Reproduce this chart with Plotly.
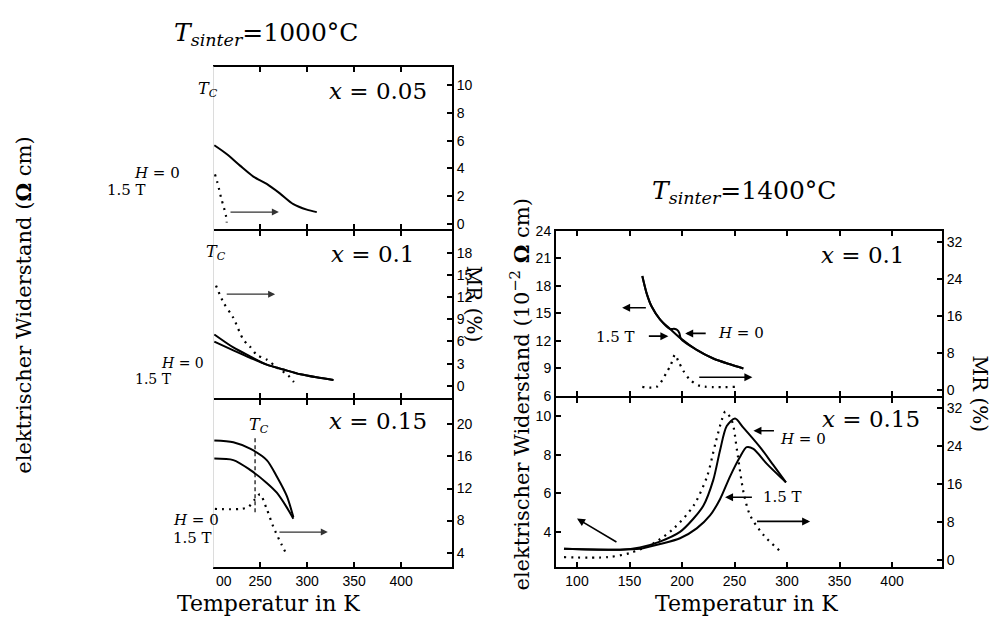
import plotly.graph_objects as go

# ---- T_sinter = 1000 C (left column) ----
# x = 0.05
t05_res = [201.4, 214.5, 228.7, 242.9, 257.1, 271.3, 285.4, 299.7, 310.3]
r05_res = [5.67, 5.04, 4.2, 3.41, 2.88, 2.18, 1.42, 1.02, 0.84]
t05_mr = [202.1, 204.6, 206.7, 208.8, 211.7, 213.8, 214.6]
v05_mr = [3.57, 3.0, 2.42, 1.83, 1.14, 0.56, 0.09]

# x = 0.1
t10_res = [201.4, 221.6, 239.4, 257.1, 275, 293, 310, 328]
r10_h0 = [6.95, 5.2, 4.0, 2.87, 2.2, 1.56, 1.15, 0.8]
r10_15 = [5.97, 4.8, 3.8, 2.87, 2.2, 1.56, 1.15, 0.8]
t10_mr = [203.2, 211, 221.6, 232.2, 239.4, 246.5, 257, 267.8, 280, 285.4, 289]
v10_mr = [13.56, 11.3, 9.2, 6.26, 5.3, 4.2, 3.56, 2.5, 1.4, 0.6, 0.1]

# x = 0.15
t15_res = [201.4, 221.6, 239.4, 257.1, 267.8, 278.4, 285.4]
r15_h0 = [17.99, 17.78, 16.97, 15.55, 13.5, 11.07, 8.43]
r15_15 = [15.74, 15.55, 14.33, 12.7, 11.48, 9.65, 8.23]
t15_mr = [202, 228.7, 237.6, 244.7, 250, 257.1, 264.2, 273, 278.4]
v15_mr = [9.45, 9.45, 9.7, 10.67, 11.28, 9.45, 7.2, 4.98, 3.76]
tc15_t = [244.7, 244.7]
tc15_v = [9.04, 18.6]

# ---- T_sinter = 1400 C (right column) ----
# x = 0.1
t14a_15 = [162.2, 166.4, 171.1, 179, 188.6, 198.1, 214, 229.8, 245.7, 258.4]
r14a_15 = [19.06, 17.14, 15.73, 14.34, 13.29, 12.31, 11.0, 10.06, 9.43, 8.98]
t14a_h0 = [162.2, 166.4, 171.1, 179, 188.6, 192.4, 195.5, 197.5, 199, 214, 229.8, 245.7, 258.4]
r14a_h0 = [19.06, 17.14, 15.73, 14.34, 13.29, 13.3, 13.18, 12.83, 12.2, 11.0, 10.06, 9.43, 8.98]
t14a_mr = [162.2, 175.9, 185.4, 189.5, 193.3, 196.5, 201.3, 207.6, 217.1, 250.5]
v14a_mr = [0.63, 0.63, 3.77, 5.5, 7.6, 6.2, 4.1, 2.16, 0.84, 0.63]

# x = 0.15
t14b_h0 = [87.6, 141, 160, 179, 198.1, 210.8, 220.3, 229.8, 236.2, 242.6, 250.5, 258.4, 274.3, 287, 299]
r14b_h0 = [3.14, 3.09, 3.21, 3.51, 4.01, 4.69, 5.36, 6.7, 8.22, 9.48, 9.87, 9.4, 8.39, 7.46, 6.57]
t14b_15 = [87.6, 141, 160, 179, 198.1, 214, 226.7, 236.2, 245.7, 255.2, 261.6, 268, 280.6, 299]
r14b_15 = [3.14, 3.09, 3.14, 3.38, 3.68, 4.19, 4.86, 5.7, 6.87, 7.88, 8.39, 8.3, 7.54, 6.57]
t14b_mr = [87.6, 128.6, 150.8, 173, 192, 211, 223.8, 231.7, 238, 241.3, 247.6, 252.4, 258.7, 265, 277.8, 293.7]
v14b_mr = [0.68, 0.68, 1.57, 3.62, 6.7, 11.5, 17.6, 24.5, 29.6, 31.3, 29.3, 23.1, 14.2, 9.4, 5.3, 1.9]

# tick values
x_ticks_left = [250, 300, 350, 400]
x_ticks_right = [100, 150, 200, 250, 300, 350, 400]
y_ticks_05 = [0, 2, 4, 6, 8, 10]
y_ticks_10 = [0, 3, 6, 9, 12, 15, 18]
y_ticks_15 = [4, 8, 12, 16, 20]
res_ticks_a = [6, 9, 12, 15, 18, 21, 24]
res_ticks_b = [4, 6, 8, 10]
mr_ticks = [0, 8, 16, 24, 32]

W, H = 1000, 627
SERIF = "DejaVu Serif"
SANS = "Liberation Sans"


def P(px, py):
    return px / W, 1 - py / H


solid = dict(color="black", width=2, shape="spline", smoothing=0.8)
dotted = dict(color="black", width=2.2, dash="2px,5px", shape="spline", smoothing=0.8)

fig = go.Figure()


def add(x, y, xa, ya, line):
    fig.add_trace(go.Scatter(x=x, y=y, xaxis=xa, yaxis=ya, mode="lines",
                             line=line, showlegend=False, hoverinfo="skip"))


add(t05_res, r05_res, "x3", "y3", solid)
add(t05_mr, v05_mr, "x3", "y3", dotted)
add(t10_res, r10_h0, "x2", "y2", solid)
add(t10_res, r10_15, "x2", "y2", solid)
add(t10_mr, v10_mr, "x2", "y2", dotted)
add(t15_res, r15_h0, "x", "y", solid)
add(t15_res, r15_15, "x", "y", solid)
add(t15_mr, v15_mr, "x", "y", dotted)
add(tc15_t, tc15_v, "x", "y", dict(color="black", width=1.2, dash="4px,3px"))

add(t14a_15, r14a_15, "x5", "y6", solid)
add(t14a_h0, r14a_h0, "x5", "y6", solid)
add(t14a_mr, v14a_mr, "x5", "y7", dotted)
add(t14b_h0, r14b_h0, "x4", "y4", solid)
add(t14b_15, r14b_15, "x4", "y4", solid)
add(t14b_mr, v14b_mr, "x4", "y5", dotted)

tickfont = dict(family=SANS, size=14, color="black")
base = dict(showline=True, linewidth=2, linecolor="black", showgrid=False, zeroline=False,
            ticks="inside", ticklen=5, tickwidth=1.5, tickcolor="black", tickfont=tickfont)

L_dom = [0.213, 0.452]
R_dom = [0.556, 0.942]
lw = 2 / H  # stacked panels: lift the upper panel so both frame lines coincide
d3 = [1 - 573 / H, 1 - 402 / H]
d2 = [1 - 402 / H + lw, 1 - 228 / H]
d1 = [1 - 228 / H + lw, 1 - 60 / H]
rb = [1 - 573 / H, 1 - 400 / H]
rt = [1 - 400 / H + lw, 1 - 228 / H]

fig.update_layout(
    width=W, height=H, autosize=False,
    margin=dict(l=0, r=0, t=0, b=0),
    paper_bgcolor="white", plot_bgcolor="white",
    xaxis=dict(base, domain=L_dom, anchor="y", range=[200, 454], tickvals=x_ticks_left, mirror="ticks"),
    xaxis2=dict(base, domain=L_dom, anchor="y2", range=[200, 454], tickvals=x_ticks_left, mirror="ticks",
                showticklabels=False),
    xaxis3=dict(base, domain=L_dom, anchor="y3", range=[200, 454], tickvals=x_ticks_left, mirror="ticks",
                showticklabels=False),
    yaxis=dict(base, domain=d3, anchor="x", side="right", range=[2.17, 23.0], tickvals=y_ticks_15),
    yaxis2=dict(base, domain=d2, anchor="x2", side="right", range=[-1.7, 21.0], tickvals=y_ticks_10),
    yaxis3=dict(base, domain=d1, anchor="x3", side="right", range=[-0.35, 11.36], tickvals=y_ticks_05),
    xaxis4=dict(base, domain=R_dom, anchor="y4", range=[80, 447.6], tickvals=x_ticks_right, mirror="ticks"),
    xaxis5=dict(base, domain=R_dom, anchor="y6", range=[80, 447.6], tickvals=x_ticks_right, mirror="ticks",
                showticklabels=False),
    yaxis4=dict(base, domain=rb, anchor="x4", side="left", range=[2.18, 10.91], tickvals=res_ticks_b),
    yaxis5=dict(base, overlaying="y4", anchor="x4", side="right", range=[-1.44, 34.05], tickvals=mr_ticks),
    yaxis6=dict(base, domain=rt, anchor="x5", side="left", range=[5.92, 24.02], tickvals=res_ticks_a),
    yaxis7=dict(base, overlaying="y6", anchor="x5", side="right", range=[-1.46, 34.5], tickvals=mr_ticks),
)

# faint left edge of the left column
fig.add_shape(type="line", xref="paper", yref="paper", x0=0.2135, x1=0.2135, y0=d3[0], y1=d1[1],
              line=dict(color="#dcdcdc", width=1))

ann = []


def text(px, py, s, size, angle=0, xanchor="center", family=SERIF):
    x, y = P(px, py)
    ann.append(dict(x=x, y=y, xref="paper", yref="paper", text=s, showarrow=False, textangle=angle,
                    xanchor=xanchor, yanchor="middle", font=dict(family=family, size=size, color="black")))


def arrow(xa, ya, x0, y0, x1, y1, color="black", width=1.6):
    ann.append(dict(xref=xa, yref=ya, axref=xa, ayref=ya, x=x1, y=y1, ax=x0, ay=y0, text="",
                    showarrow=True, arrowhead=2, arrowsize=1, arrowwidth=width, arrowcolor=color, standoff=0))


# titles
text(266, 27, "<i>T</i><sub><i>sinter</i></sub>=1000°C", 25)
text(744, 189, "<i>T</i><sub><i>sinter</i></sub>=1400°C", 25)
text(268, 610, "Temperatur in K", 22)
text(746, 610, "Temperatur in K", 22)
text(24, 305, "elektrischer Widerstand (<b>Ω</b> cm)", 21, angle=-90)
text(474, 303, "MR (%)", 20, angle=90)
text(520, 396, "elektrischer Widerstand (10<sup>−2</sup> <b>Ω</b> cm)", 21, angle=-90)
text(980, 395, "MR (%)", 20, angle=90)
text(214, 587, "00", 14, xanchor="left", family=SANS)

# panel labels
text(378, 85, "<i>x</i> = 0.05", 23)
text(372, 252, "<i>x</i> = 0.1", 23)
text(378, 423, "<i>x</i> = 0.15", 23)
text(862, 253, "<i>x</i> = 0.1", 23)
text(871, 421, "<i>x</i> = 0.15", 23)

text(208, 84, "<i>T</i><sub><i>C</i></sub>", 16)
text(216, 251, "<i>T</i><sub><i>C</i></sub>", 16)
text(259, 428, "<i>T</i><sub><i>C</i></sub>", 16)

text(157, 169, "<i>H</i> = 0", 15)
text(126, 186, "1.5 T", 15)
text(182, 364, "<i>H</i> = 0", 14)
text(153, 380, "1.5 T", 14)
text(196, 525, "<i>H</i> = 0", 15)
text(192, 543, "1.5 T", 15)

text(615, 337, "1.5 T", 15)
text(741, 333, "<i>H</i> = 0", 15)
text(803, 442, "<i>H</i> = 0", 15)
text(782, 501, "1.5 T", 15)

# arrows
arrow("x3", "y3", 217, 0.84, 270, 0.84, color="#333", width=1.4)
arrow("x2", "y2", 213, 12.4, 266, 12.4, color="#333", width=1.4)
arrow("x", "y", 269, 6.56, 322, 6.56, color="#333", width=1.4)

arrow("x5", "y6", 167, 15.6, 143, 15.6)
arrow("x5", "y6", 167, 12.5, 187, 12.5)
arrow("x5", "y6", 224, 12.8, 203, 12.8)
arrow("x5", "y7", 215, 2.7, 267, 2.7)

arrow("x4", "y4", 139, 3.44, 100, 4.7)
arrow("x4", "y4", 289, 9.24, 268, 9.24)
arrow("x4", "y4", 268, 5.8, 241, 5.8)
arrow("x4", "y5", 270, 8.2, 322, 8.2)

fig.update_layout(annotations=ann)

fig.write_html("out.html", config={"displayModeBar": False},
               post_script="document.body.style.margin='0';")
